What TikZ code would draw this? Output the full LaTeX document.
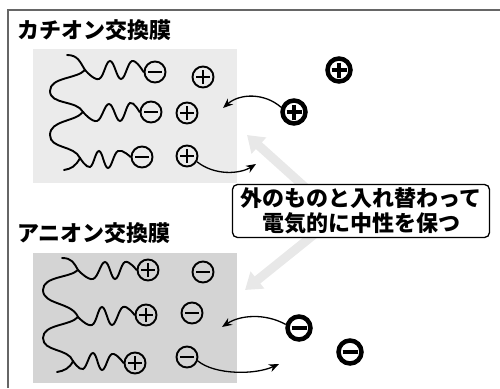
\documentclass[tikz,border=0pt]{standalone}
\usepackage{fontspec}
\setmainfont{Noto Sans CJK JP}
\usetikzlibrary{arrows.meta}

\begin{document}
\begin{tikzpicture}[x=1pt, y=-1pt,
    ttl/.style={anchor=west, inner sep=0, font=\fontsize{22}{25}\selectfont\bfseries},
    strand/.style={line width=1.9, line cap=round},
    negion/.style={circle, draw, minimum size=21, inner sep=0, line width=1.9,
        path picture={\draw[line width=1.9] ([xshift=3.5]path picture bounding box.west) -- ([xshift=-3.5]path picture bounding box.east);}},
    posion/.style={circle, draw, minimum size=21, inner sep=0, line width=1.9,
        path picture={\draw[line width=1.9] ([xshift=3.5]path picture bounding box.west) -- ([xshift=-3.5]path picture bounding box.east);
                      \draw[line width=1.9] ([yshift=-3.5]path picture bounding box.north) -- ([yshift=3.5]path picture bounding box.south);}},
    negfree/.style={circle, draw, minimum size=23, inner sep=0, line width=4.5,
        path picture={\draw[line width=3.5] ([xshift=4]path picture bounding box.west) -- ([xshift=-4]path picture bounding box.east);}},
    posfree/.style={circle, draw, minimum size=23, inner sep=0, line width=4.5,
        path picture={\draw[line width=3.2] ([xshift=4]path picture bounding box.west) -- ([xshift=-4]path picture bounding box.east);
                      \draw[line width=3.2] ([yshift=-4]path picture bounding box.north) -- ([yshift=4]path picture bounding box.south);}},
    arr/.style={-{Stealth[length=10, width=8]}, line width=1.3},
    exch/.style={-{Triangle[length=16, width=21]}, line width=9, draw=black!9},
    note/.style={draw, fill=white, rounded corners=5, line width=1.3, align=center,
        minimum width=257, minimum height=53, inner sep=2, font=\fontsize{22}{25}\selectfont\bfseries}
]
\useasboundingbox (0,0) rectangle (500,388);

% frame
\draw[line width=1.6, black!60] (8,388) |- (500,10);

% membranes
\fill[black!8] (33,49) rectangle (237,183);
\fill[black!17] (33,253) rectangle (237,383);
\node[ttl] (cttl) at (17,30) {カチオン交換膜};
\node[ttl] (attl) at (17,233) {アニオン交換膜};

% cation exchange membrane: fixed negative groups
\draw[strand] (67,55) .. controls (78,55) and (80,62) .. (85,70)
    .. controls (77,79) and (50,77) .. (50,91) .. controls (50,105) and (77,100) .. (83,112)
    .. controls (75,122) and (50,120) .. (50,135) .. controls (50,149) and (74,145) .. (80,158)
    .. controls (76,166) and (71,169) .. (64,170);
\node[negion] (c1) at (155,72) {};
\node[negion] (c2) at (151,112) {};
\node[negion] (c3) at (142,157) {};
\draw[strand] plot[smooth, tension=0.7] coordinates {(85,70) (99,79) (110,61) (121,79) (132,61) (c1.west)};
\draw[strand] plot[smooth, tension=0.7] coordinates {(83,112) (97,121) (109,104) (120,121) (130,103) (c2.west)};
\draw[strand] plot[smooth, tension=0.7] coordinates {(80,158) (90,167) (99,151) (108,168) (118,151) (c3.west)};
\node[posion] (cp1) at (203,77) {};
\node[posion] (cp2) at (187,113) {};
\node[posion] (cp3) at (187,156) {};

% anion exchange membrane: fixed positive groups
\draw[strand] (62,258) .. controls (72,258) and (74,263) .. (78,270)
    .. controls (70,278) and (43,276) .. (43,290) .. controls (43,305) and (72,302) .. (78,317)
    .. controls (70,326) and (43,324) .. (43,338) .. controls (43,352) and (68,348) .. (73,361)
    .. controls (70,368) and (64,371) .. (57,372);
\node[posion] (a1) at (148,270) {};
\node[posion] (a2) at (146,315) {};
\node[posion] (a3) at (135,363) {};
\draw[strand] plot[smooth, tension=0.7] coordinates {(78,270) (93,279) (105,262) (115,279) (125,262) (a1.west)};
\draw[strand] plot[smooth, tension=0.7] coordinates {(78,317) (92,325) (102,307) (112,325) (123,307) (a2.west)};
\draw[strand] plot[smooth, tension=0.7] coordinates {(73,361) (83,369) (93,353) (102,370) (112,354) (a3.west)};
\node[negion] (an1) at (203,272) {};
\node[negion] (an2) at (192,313) {};
\node[negion] (an3) at (187,357) {};

% ions outside
\node[posfree] (pin) at (294,112) {};
\node[posfree] (pfar) at (339,70) {};
\node[negfree] (nin) at (299,328) {};
\node[negfree] (nfar) at (350,352) {};

\coordinate (cin) at (223,108);
\coordinate (cout) at (256,164);
\coordinate (ain) at (222,327);
\coordinate (aout) at (279,364);
\draw[arr] (pin.160) .. controls (265,93) and (240,93) .. (cin);
\draw[arr] (cp3.-30) .. controls (215,176) and (240,174) .. (cout);
\draw[arr] (nin.165) .. controls (265,313) and (240,315) .. (ain);
\draw[arr] (an3.-20) .. controls (215,375) and (255,375) .. (aout);

% exchange keeps the charge balanced
\coordinate (hub) at (337,216);
\coordinate (up) at (247,135);
\coordinate (down) at (245,290);
\draw[exch] (hub) -- (up);
\draw[exch] (hub) -- (down);
\node[note] (msg) at (361,211) {外のものと入れ替わって\\電気的に中性を保つ};
\end{tikzpicture}
\end{document}
